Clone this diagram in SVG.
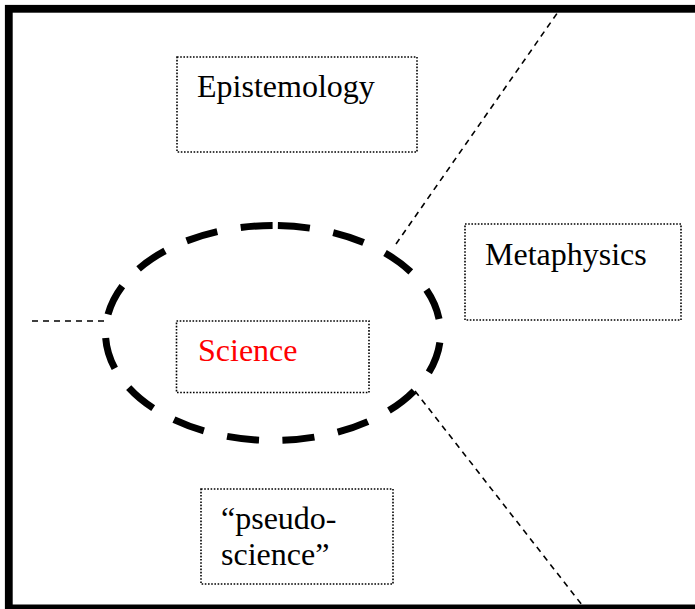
<svg xmlns="http://www.w3.org/2000/svg" width="695" height="609" viewBox="0 0 695 609">
<style>
.box{fill:none;stroke:#000;stroke-width:1.6;stroke-dasharray:1.6 1.6}
.lbl{font-size:32px;fill:#000}
.conn{fill:none;stroke:#000;stroke-width:1.6;stroke-dasharray:6 5}
</style>
<rect x="0" y="0" width="695" height="609" fill="#fff"/>
<rect id="frame" x="8.8" y="8.8" width="700" height="599.6" fill="none" stroke="#000" stroke-width="7.8"/>
<g id="connectors">
<line class="conn" x1="32" y1="321" x2="106" y2="321"/>
<line class="conn" x1="396" y1="244" x2="558" y2="12"/>
<line class="conn" x1="415" y1="391" x2="582" y2="605"/>
</g>
<g id="science-ellipse">
<path d="M273 225.5 A167.5 107.5 0 0 1 440.5 333 A167.5 107.5 0 0 1 273 440.5 A167.5 107.5 0 0 1 105.5 333 A167.5 107.5 0 0 1 273 225.5 Z" pathLength="874.4" fill="none" stroke="#000" stroke-width="7" stroke-dasharray="32 23.8" stroke-dashoffset="50.8"/>
</g>
<g id="epistemology">
<rect class="box" x="177" y="57" width="240" height="95"/>
<text class="lbl" font-family="'Liberation Serif', 'Times New Roman', 'DejaVu Serif', serif" x="197" y="97">Epistemology</text>
</g>
<g id="metaphysics">
<rect class="box" x="465" y="224" width="216" height="96"/>
<text class="lbl" font-family="'Liberation Serif', 'Times New Roman', 'DejaVu Serif', serif" x="485" y="265">Metaphysics</text>
</g>
<g id="science">
<rect class="box" x="176.5" y="321" width="192.5" height="71.5"/>
<text class="lbl" font-family="'Liberation Serif', 'Times New Roman', 'DejaVu Serif', serif" x="198" y="361" style="fill:#f00">Science</text>
</g>
<g id="pseudoscience">
<rect class="box" x="201" y="489" width="192" height="95"/>
<text class="lbl" font-family="'Liberation Serif', 'Times New Roman', 'DejaVu Serif', serif" x="221" y="529">“pseudo-</text>
<text class="lbl" font-family="'Liberation Serif', 'Times New Roman', 'DejaVu Serif', serif" x="221" y="565">science”</text>
</g>
</svg>
